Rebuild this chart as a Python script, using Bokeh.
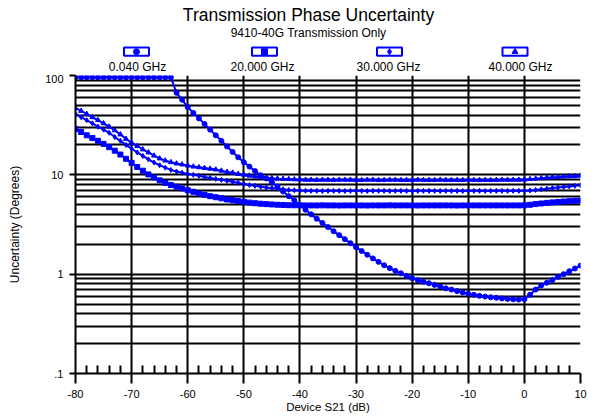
import numpy as np
from bokeh.plotting import figure
from bokeh.models import Range1d, FixedTicker, CustomJSTickFormatter
from bokeh.layouts import column
from bokeh.embed import file_html
from bokeh.resources import INLINE
from bokeh.core.properties import value

# ---------------- data ----------------
title_text = "Transmission Phase Uncertainty"
subtitle_text = "9410-40G Transmission Only"
x_label = "Device S21 (dB)"
y_label = "Uncertainty (Degrees)"

series_names = ["0.040 GHz", "20.000 GHz", "30.000 GHz", "40.000 GHz"]
series_markers = ["circle", "square", "diamond", "triangle"]

x_ticks = [-80, -70, -60, -50, -40, -30, -20, -10, 0, 10]
x_tick_labels = ["-80", "-70", "-60", "-50", "-40", "-30", "-20", "-10", "0", "10"]
x_minor_ticks = [-78, -76, -74, -72, -68, -66, -64, -62, -58, -56, -54, -52,
                 -48, -46, -44, -42, -38, -36, -34, -32, -28, -26, -24, -22,
                 -18, -16, -14, -12, -8, -6, -4, -2, 2, 4, 6, 8]
y_ticks = [0.1, 1, 10, 100]
y_tick_labels = [".1", "1", "10", "100"]
y_minor_ticks = [0.2, 0.3, 0.4, 0.5, 0.6, 0.7, 0.8, 0.9,
                 2, 3, 4, 5, 6, 7, 8, 9,
                 20, 30, 40, 50, 60, 70, 80, 90]

s21_db = list(range(-80, 11))

# 0.040 GHz (circle)
unc_0040 = [
    96, 96, 96, 96, 96, 96, 96, 96, 96, 96,            # -80 .. -71
    96, 96, 96, 96, 96, 96, 96, 96, 67, 57,            # -70 .. -61
    48, 42, 37, 32.5, 28.5, 25, 22, 19.3, 17, 15,      # -60 .. -51
    13.4, 12.1, 10.9, 9.9, 9.2, 8.4, 7.6, 6.8, 6.1, 5.55,  # -50 .. -41
    4.95, 4.45, 4.0, 3.62, 3.28, 2.98, 2.7, 2.47, 2.25, 2.05,  # -40 .. -31
    1.87, 1.71, 1.57, 1.44, 1.33, 1.23, 1.15, 1.08, 1.02, 0.96,  # -30 .. -21
    0.91, 0.87, 0.84, 0.81, 0.78, 0.75, 0.72, 0.70, 0.675, 0.655,  # -20 .. -11
    0.635, 0.62, 0.605, 0.595, 0.585, 0.578, 0.57, 0.563, 0.558, 0.555,  # -10 .. -1
    0.56, 0.62, 0.70, 0.77, 0.82, 0.875, 0.94, 1.0, 1.07, 1.14,  # 0 .. 9
    1.22,                                               # 10
]
# 20.000 GHz (square)
unc_20000 = [
    29, 27, 25, 23.5, 22, 20.5, 19, 17.5, 16, 14.5,
    13.2, 12, 11, 10.1, 9.4, 8.8, 8.3, 7.9, 7.6, 7.3,
    7.0, 6.75, 6.5, 6.3, 6.1, 5.95, 5.8, 5.65, 5.55, 5.45,
    5.35, 5.25, 5.18, 5.12, 5.07, 5.03, 5.0, 4.97, 4.95, 4.94,
    4.93, 4.92, 4.92, 4.92, 4.93, 4.92, 4.92, 4.91, 4.92, 4.92,
    4.92, 4.92, 4.91, 4.92, 4.92, 4.92, 4.93, 4.92, 4.92, 4.92,
    4.92, 4.91, 4.92, 4.92, 4.92, 4.92, 4.92, 4.92, 4.91, 4.92,
    4.92, 4.92, 4.92, 4.92, 4.92, 4.92, 4.92, 4.92, 4.92, 4.92,
    4.93, 5.0, 5.08, 5.15, 5.22, 5.28, 5.33, 5.38, 5.43, 5.47,
    5.5,
]
# 30.000 GHz (diamond)
unc_30000 = [
    41, 38, 35.5, 33, 30.5, 28.5, 26.5, 24, 22, 20,
    18.3, 16.8, 15.5, 14.3, 13.3, 12.5, 11.8, 11.2, 10.8, 10.5,
    10.2, 10.0, 9.8, 9.5, 9.3, 9.1, 8.9, 8.7, 8.5, 8.3,
    8.1, 7.9, 7.75, 7.6, 7.45, 7.35, 7.25, 7.15, 7.05, 7.0,
    6.95, 6.92, 6.9, 6.9, 6.88, 6.9, 6.9, 6.9, 6.88, 6.9,
    6.9, 6.9, 6.88, 6.9, 6.9, 6.9, 6.88, 6.9, 6.9, 6.9,
    6.88, 6.9, 6.9, 6.9, 6.9, 6.88, 6.9, 6.9, 6.9, 6.88,
    6.9, 6.9, 6.9, 6.88, 6.9, 6.9, 6.9, 6.9, 6.9, 6.9,
    6.92, 6.97, 7.05, 7.15, 7.25, 7.35, 7.45, 7.55, 7.65, 7.75,
    7.85,
]
# 40.000 GHz (triangle)
unc_40000 = [
    47, 44, 41, 38, 35.5, 33, 30.5, 28, 25.5, 23,
    21, 19.5, 18, 16.8, 15.6, 14.6, 13.9, 13.4, 13.0, 12.7,
    12.4, 12.1, 11.9, 11.7, 11.5, 11.3, 11.0, 10.7, 10.5, 10.2,
    10.0, 9.8, 9.6, 9.45, 9.35, 9.25, 9.15, 9.1, 9.05, 9.0,
    8.95, 8.9, 8.9, 8.85, 8.9, 8.9, 8.85, 8.9, 8.9, 8.9,
    8.85, 8.85, 8.9, 8.9, 8.85, 8.85, 8.9, 8.9, 8.85, 8.85,
    8.85, 8.9, 8.85, 8.85, 8.85, 8.9, 8.85, 8.85, 8.85, 8.85,
    8.9, 8.85, 8.85, 8.85, 8.85, 8.85, 8.9, 8.9, 8.9, 8.9,
    8.95, 9.05, 9.15, 9.25, 9.35, 9.45, 9.5, 9.6, 9.65, 9.7,
    9.8,
]
series_values = [unc_0040, unc_20000, unc_30000, unc_40000]

# ---------------- styles ----------------
FONT = "Liberation Sans"
BLUE = "#0000FF"
W = 594
HDR_H = 74
MAIN_H = 343
LEFT, RIGHT = 75, 14

# ---------------- header (title + legend) ----------------
# header frame spans the same page columns as the main frame; x data = page px
hdr = figure(width=W, height=HDR_H, x_range=Range1d(LEFT, W - RIGHT), y_range=Range1d(HDR_H, 0),
             x_axis_location=None, y_axis_location=None, output_backend="svg",
             toolbar_location=None, min_border_left=LEFT, min_border_right=RIGHT,
             min_border_top=0, min_border_bottom=0)
hdr.grid.visible = False
hdr.outline_line_color = None

hdr.text(x=[308], y=[14.5], text=[title_text], text_font=value(FONT),
         text_font_size="17.5px", text_align="center", text_baseline="middle", text_color="black")
hdr.text(x=[308], y=[32.3], text=[subtitle_text], text_font=value(FONT),
         text_font_size="12px", text_align="center", text_baseline="middle", text_color="black")

box_x = [136, 264, 389, 514.5]
lab_x = [137, 262, 388, 520]
for bx, lx, name, mk in zip(box_x, lab_x, series_names, series_markers):
    hdr.rect(x=[bx], y=[51.2], width=25, height=8.3, fill_color=None,
             line_color=BLUE, line_width=2)
    hdr.scatter(x=[bx], y=[51.2], marker=mk, size=6, color=BLUE)
    hdr.text(x=[lx], y=[66.3], text=[name], text_font=value(FONT), text_font_size="12px",
             text_align="center", text_baseline="middle", text_color="black")

# ---------------- main plot ----------------
p = figure(width=W, height=MAIN_H, x_range=Range1d(-80, 10), y_range=Range1d(0.1, 100),
           y_axis_type="log", output_backend="svg", toolbar_location=None,
           min_border_left=LEFT, min_border_right=RIGHT, min_border_top=1, min_border_bottom=44)
p.outline_line_color = None
p.background_fill_color = "white"

p.xaxis.ticker = FixedTicker(ticks=x_ticks, minor_ticks=x_minor_ticks)
p.yaxis.ticker = FixedTicker(ticks=y_ticks, minor_ticks=y_minor_ticks)
p.xgrid.ticker = FixedTicker(ticks=x_ticks)
p.ygrid.ticker = FixedTicker(ticks=y_ticks, minor_ticks=y_minor_ticks)

p.xaxis.formatter = CustomJSTickFormatter(
    args=dict(tvals=x_ticks, tlabels=x_tick_labels),
    code="const i = tvals.findIndex(t => Math.abs(t - tick) < 1e-9); return i >= 0 ? tlabels[i] : '';")
p.yaxis.formatter = CustomJSTickFormatter(
    args=dict(tvals=y_ticks, tlabels=y_tick_labels),
    code="const i = tvals.findIndex(t => Math.abs(t - tick) < 1e-9 * Math.max(1, t)); return i >= 0 ? tlabels[i] : '';")

for ax in (p.xaxis, p.yaxis):
    ax.axis_line_color = "black"
    ax.axis_line_width = 2
    ax.major_tick_line_color = "black"
    ax.major_tick_line_width = 2
    ax.major_tick_in = 0
    ax.major_label_text_font = FONT
    ax.major_label_text_font_size = "11px"
    ax.major_label_text_color = "black"
    ax.axis_label_text_font = FONT
    ax.axis_label_text_font_style = "normal"
    ax.axis_label_text_color = "black"

p.xaxis.axis_label = x_label
p.xaxis.axis_label_text_font_size = "11.5px"
p.xaxis.axis_label_standoff = 0
p.xaxis.major_label_standoff = 6
p.xaxis.major_tick_out = 10
p.xaxis.minor_tick_line_color = "black"
p.xaxis.minor_tick_line_width = 2
p.xaxis.minor_tick_in = 8
p.xaxis.minor_tick_out = 0

p.yaxis.axis_label = y_label
p.yaxis.axis_label_text_font_size = "12px"
p.yaxis.axis_label_standoff = 20
p.yaxis.major_label_standoff = 6
p.yaxis.major_tick_out = 6
p.yaxis.minor_tick_line_color = None

p.xgrid.grid_line_color = "black"
p.xgrid.grid_line_width = 2
p.ygrid.grid_line_color = "black"
p.ygrid.grid_line_width = 2
p.ygrid.minor_grid_line_color = "black"
p.ygrid.minor_grid_line_width = 2

for vals, mk in zip(series_values, series_markers):
    p.line(s21_db, vals, line_color=BLUE, line_width=2)
    p.scatter(s21_db, vals, marker=mk, size=5, color=BLUE)

layout = column(hdr, p)
open("out.html", "w").write(file_html(layout, INLINE))
